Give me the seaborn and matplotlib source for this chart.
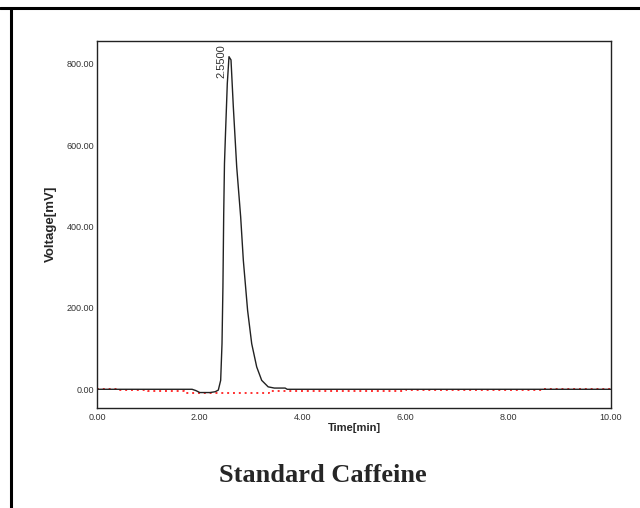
import matplotlib
matplotlib.use("Agg")
import matplotlib.pyplot as plt
from matplotlib.lines import Line2D
import seaborn as sns
import pandas as pd

# Chromatogram trace (time in min, detector signal in mV)
time_min = [0.0, 1.85, 1.92, 2.00, 2.20, 2.30, 2.36, 2.406, 2.432, 2.45, 2.465,
            2.48, 2.50, 2.535, 2.568, 2.607, 2.652, 2.718, 2.795, 2.847, 2.93,
            3.01, 3.107, 3.204, 3.33, 3.45, 3.66, 3.70, 10.0]
voltage_mv = [0, 0, -3, -8, -8, -6, -2, 22, 112, 252, 430,
              555, 629, 752, 818, 810, 695, 547, 424, 317, 194,
              112, 55, 22, 6, 3, 3, 0, 0]

# Integration baseline
base_time = [0.0, 0.4, 1.0, 1.7, 3.35, 6.0, 8.65, 10.0]
base_mv = [0, -2.5, -5, -9, -5, -2, 0, 0]

peak_rt = 2.55
peak_height = 806

x_ticks = [0, 2, 4, 6, 8, 10]
y_ticks = [0, 200, 400, 600, 800]

sns.set_style("white")
plt.rcParams["font.family"] = ["Liberation Sans", "DejaVu Sans"]

fig = plt.figure(figsize=(6.4, 5.08), dpi=100)
ax = fig.add_axes([97 / 640, 1 - 407.5 / 508, 514 / 640, 366.8 / 508])

trace = pd.DataFrame({"t": time_min, "v": voltage_mv})
base = pd.DataFrame({"t": base_time, "v": base_mv})

sns.lineplot(data=base, x="t", y="v", ax=ax, color="#ff3030", lw=1.4,
             drawstyle="steps-post", estimator=None, sort=False)
ax.lines[-1].set_linestyle((0, (1, 2)))
sns.lineplot(data=trace, x="t", y="v", ax=ax, color="#222222", lw=1.0,
             estimator=None, sort=False)

ax.text(peak_rt - 0.12, peak_height, f"{peak_rt:.4f}", rotation=90,
        ha="center", va="center", fontsize=8, color="#333333")

ax.set_xlim(0, 10)
ax.set_ylim(-44.8, 857.3)
ax.set_xticks(x_ticks)
ax.set_yticks(y_ticks)
ax.set_xticklabels([f"{v:.2f}" for v in x_ticks])
ax.set_yticklabels([f"{v:.2f}" for v in y_ticks])
ax.tick_params(axis="both", length=0, labelsize=6.5, colors="#333333", pad=2)
ax.tick_params(axis="x", pad=4)

ax.set_xlabel("Time[min]", fontsize=8, fontweight="bold", labelpad=1)
ax.set_ylabel("Voltage[mV]", fontsize=9.5, fontweight="bold", labelpad=7)

for s in ax.spines.values():
    s.set_visible(True)
    s.set_color("#222222")
    s.set_linewidth(1.0)

fig.text(323 / 640, 1 - 475 / 508, "Standard Caffeine", ha="center", va="center",
         fontsize=19, fontweight="bold", family=["Liberation Serif", "DejaVu Serif"])

# Page frame lines
fig.add_artist(Line2D([0, 1], [1 - 7.5 / 508, 1 - 7.5 / 508], color="black", lw=2.2,
                      transform=fig.transFigure))
fig.add_artist(Line2D([11 / 640, 11 / 640], [0, 1 - 7.5 / 508], color="black", lw=2.2,
                      transform=fig.transFigure))

fig.savefig("out.png", dpi=100)
